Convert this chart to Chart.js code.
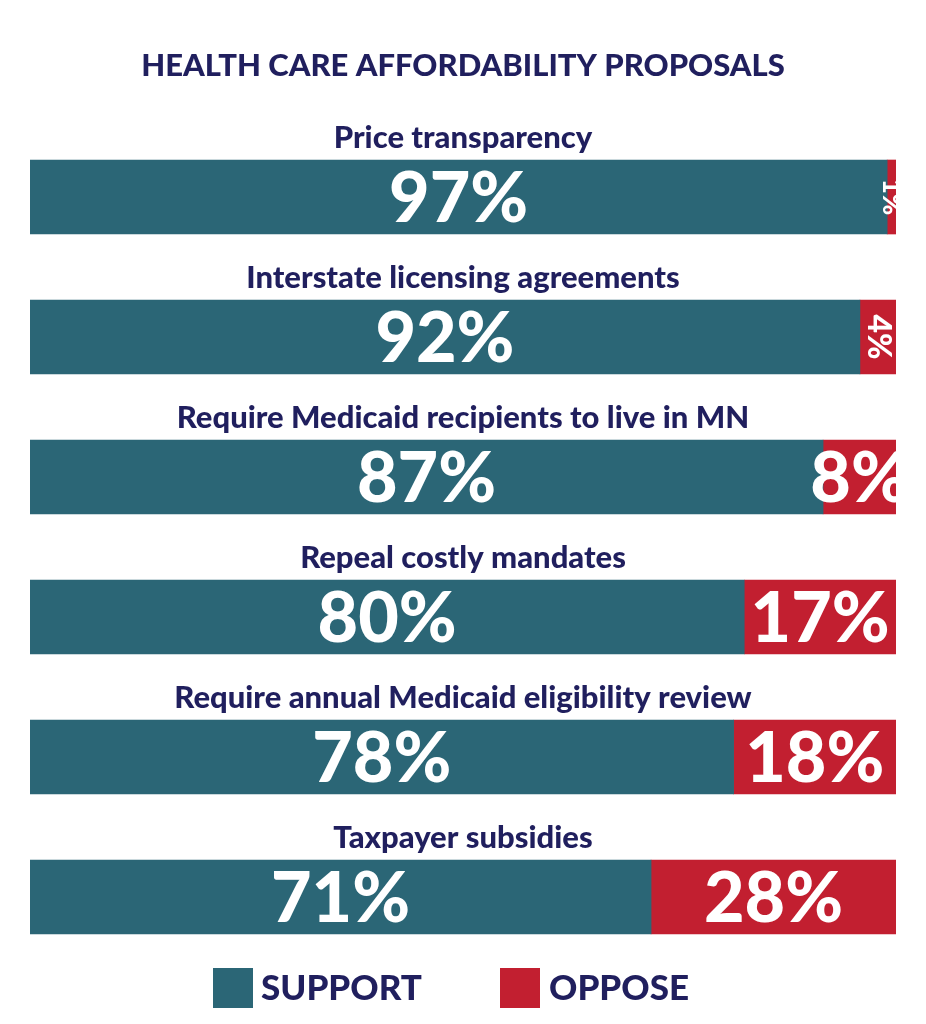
<!DOCTYPE html>
<html>
<head>
<meta charset="utf-8">
<script src="https://cdn.jsdelivr.net/npm/chart.js@4"></script>
<style>
  html, body { margin: 0; padding: 0; background: #fff; }
  #wrap { width: 926px; height: 1024px; }
</style>
</head>
<body>
<div id="wrap"><canvas id="chart" width="926" height="1024"></canvas></div>
<script>
const title = "HEALTH CARE AFFORDABILITY PROPOSALS";
const categories = [
    "Price transparency",
    "Interstate licensing agreements",
    "Require Medicaid recipients to live in MN",
    "Repeal costly mandates",
    "Require annual Medicaid eligibility review",
    "Taxpayer subsidies"
];
const support = [97, 92, 87, 80, 78, 71];
const oppose = [1, 4, 8, 17, 18, 28];

const teal = "#2b6676";
const red = "#c21f30";
const navy = "#201f5e";
const font = "Lato, 'DejaVu Sans', sans-serif";

// bars fill the full width, so each row is scaled to its own total
const supportShare = support.map((s, i) => s / (s + oppose[i]) * 100);
const opposeShare = oppose.map((o, i) => o / (support[i] + o) * 100);

const labelsPlugin = {
    id: 'labels',
    afterDatasetsDraw(chart) {
        const c = chart.ctx;
        c.save();
        c.fillStyle = navy;
        c.textAlign = 'center';
        c.textBaseline = 'middle';
        c.font = "900 31px " + font;
        c.fillText(title, 463, 66);

        const y = chart.scales.y;
        categories.forEach((cat, i) => {
            const cy = y.getPixelForValue(i);
            c.fillStyle = navy;
            c.font = "900 31px " + font;
            c.fillText(cat, 463, cy - 59);
        });

        const vals = [support, oppose];
        chart.data.datasets.forEach((ds, d) => {
            chart.getDatasetMeta(d).data.forEach((bar, i) => {
                const w = Math.abs(bar.x - bar.base);
                const cx = (bar.x + bar.base) / 2;
                const txt = vals[d][i] + "%";
                c.fillStyle = "#fff";
                if (w < 60) {
                    c.save();
                    c.translate(cx, bar.y);
                    c.rotate(Math.PI / 2);
                    c.font = "900 " + (w < 20 ? 26 : 32) + "px " + font;
                    c.fillText(txt, 0, 0);
                    c.restore();
                } else {
                    c.font = "900 70px " + font;
                    c.fillText(txt, cx, bar.y + 2);
                }
            });
        });

        // legend
        c.fillStyle = teal;
        c.fillRect(213, 968, 40, 40);
        c.fillStyle = red;
        c.fillRect(500, 968, 40, 40);
        c.fillStyle = navy;
        c.textAlign = 'left';
        c.font = "900 35px " + font;
        c.fillText("SUPPORT", 261, 989);
        c.fillText("OPPOSE", 549, 989);
        c.restore();
    }
};

new Chart(document.getElementById("chart"), {
    type: 'bar',
    data: {
        labels: categories,
        datasets: [
            { label: 'SUPPORT', data: supportShare, backgroundColor: teal, barThickness: 74 },
            { label: 'OPPOSE', data: opposeShare, backgroundColor: red, barThickness: 74 }
        ]
    },
    options: {
        indexAxis: 'y',
        responsive: false,
        animation: false,
        layout: { padding: { top: 127, bottom: 57, left: 30, right: 30 } },
        scales: {
            x: { stacked: true, min: 0, max: 100, display: false },
            y: { stacked: true, display: false }
        },
        plugins: {
            legend: { display: false },
            tooltip: { enabled: false }
        }
    },
    plugins: [labelsPlugin]
});
</script>
</body>
</html>
